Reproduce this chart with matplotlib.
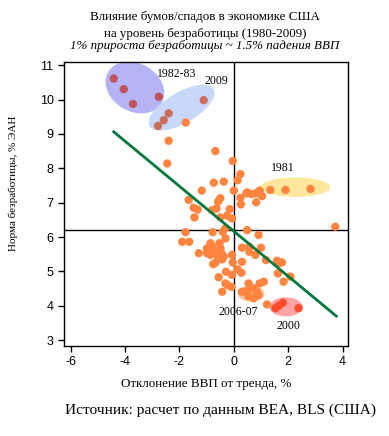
import matplotlib
matplotlib.use("Agg")
import matplotlib.pyplot as plt
from matplotlib.patches import Ellipse
from matplotlib.transforms import ScaledTranslation

# отклонение ВВП от тренда (%), норма безработицы (%)
gdp_gap = [
    -1.77, -2.40, -0.68, -2.45,
    -0.04, 0.24, 0.14, -0.74, -0.37, -1.18, 0.00, 0.46, 0.24, -0.50, -0.58,
    -1.66, 0.26, -1.48, -1.33, -0.80, -0.64, -0.15, -1.45, -0.50, -0.25, -0.07,
    -0.32, 0.49, -1.78, -0.78, -0.41, -0.31, -1.90, -1.64,
    -0.86, -0.53, -0.99, -0.80, -0.49, -1.29, -0.99, -0.86, -0.46, -0.37,
    -0.07, 0.30, -0.68, -0.76, -0.43, -0.04, 0.30, -0.29, 0.14, 0.28, -0.56,
    -0.07, -0.31, -0.23, -0.09, -0.43, -0.70, -0.60, -0.90,
    3.73, 0.91, 0.57, 0.57, 1.00, 0.79, 1.18, 1.59, 1.77, 1.67, 1.62, 2.08,
    1.83, 1.10, 0.95, 0.54,
    0.30, 0.49, 0.73, 0.85, 0.54, 0.73, 0.91, 1.22,
    0.49, 0.64, 0.79, 0.95, 1.04, 0.82,
    1.34, 1.90, 2.82,
]
unemp = [
    9.33, 8.80, 8.50, 8.14,
    8.21, 7.83, 7.65, 7.58, 7.61, 7.35, 7.35, 7.27, 7.14, 7.13, 7.03,
    7.08, 6.95, 6.85, 6.80, 6.78, 6.83, 6.81, 6.57, 6.57, 6.62, 6.54,
    6.25, 6.20, 6.14, 6.14, 6.15, 5.96, 5.86, 5.86,
    5.82, 5.82, 5.67, 5.72, 5.67, 5.53, 5.53, 5.48, 5.53, 5.43,
    5.48, 5.69, 5.25, 5.21, 5.35, 5.26, 5.28, 4.99, 5.06, 4.96, 4.83,
    4.90, 4.65, 4.60, 4.55, 4.41, 5.60, 5.45, 5.60,
    6.30, 6.06, 5.72, 5.57, 5.69, 5.48, 5.33, 5.31, 5.26, 5.24, 4.94, 4.85,
    4.70, 4.70, 4.65, 4.65,
    4.41, 4.44, 4.51, 4.41, 4.28, 4.22, 4.31, 4.04,
    7.30, 7.25, 7.27, 7.35, 7.19, 7.01,
    7.37, 7.37, 7.40,
]

# выделенные периоды
gap_8283 = [-4.42, -4.05, -3.71, -2.76]
un_8283 = [10.61, 10.30, 9.87, 10.08]
gap_2009 = [-2.40, -2.58, -2.79, -1.11]
un_2009 = [9.60, 9.40, 9.23, 9.98]
gap_2000 = [1.53, 1.65, 1.80, 2.38]
un_2000 = [3.93, 4.00, 4.09, 3.93]

# линия тренда
trend_x = [-4.42, 3.77]
trend_y = [9.06, 3.70]

plt.rcParams['font.family'] = ['Liberation Serif', 'DejaVu Serif']

fig = plt.figure(figsize=(3.89, 4.36), dpi=100)
ax = fig.add_axes([0.1645, 0.2064, 0.7301, 0.6521])


def oval(cx, cy, w, h, ang, color, alpha=1.0):
    # размеры овала в пикселях, центр в координатах данных
    tr = fig.dpi_scale_trans + ScaledTranslation(cx, cy, ax.transData)
    e = Ellipse((0, 0), w / 100, h / 100, angle=ang, transform=tr,
                facecolor=color, edgecolor='none', alpha=alpha, zorder=1)
    ax.add_patch(e)


oval(-3.64, 10.35, 62, 48, -30, '#b4b4f4')
oval(-1.92, 9.76, 74, 31, 30, '#c8d8fa')
oval(2.26, 7.45, 70, 19.5, 0, '#fde79c')
oval(0.63, 4.35, 27, 16, 0, '#f9c9a4')
oval(1.92, 3.97, 33, 19, 0, '#ffa4a4')

ax.axhline(6.19, color='black', lw=1, zorder=2)
ax.axvline(0, color='black', lw=1, zorder=2)

ax.scatter(gdp_gap, unemp, s=36, color='#ff843f', edgecolors='none', zorder=3)
ax.scatter(gap_8283, un_8283, s=36, color='#c0545e', edgecolors='none', zorder=3)
ax.scatter(gap_2009, un_2009, s=36, color='#cc6e5c', edgecolors='none', zorder=3)
ax.scatter(gap_2000, un_2000, s=36, color='#ff4c2c', edgecolors='none', zorder=3)

ax.plot(trend_x, trend_y, color='#00783c', lw=2, zorder=4)

ax.text(-2.09, 10.74, '1982-83', fontsize=8.5, ha='center', va='center', zorder=5)
ax.text(-0.64, 10.54, '2009', fontsize=8.5, ha='center', va='center', zorder=5)
ax.text(1.80, 8.00, '1981', fontsize=8.5, ha='center', va='center', zorder=5)
ax.text(0.18, 3.81, '2006-07', fontsize=8.5, ha='center', va='center', zorder=5)
ax.text(2.02, 3.42, '2000', fontsize=8.5, ha='center', va='center', zorder=5)

ax.set_xlim(-6.25, 4.2)
ax.set_ylim(2.83, 11.1)
ax.set_xticks([-6, -4, -2, 0, 2, 4])
ax.set_yticks(range(3, 12))
ax.set_xticklabels(['-6', '-4', '-2', '0', '2', '4'], family='Liberation Sans')
ax.set_yticklabels([str(v) for v in range(3, 12)], family='Liberation Sans')
ax.tick_params(direction='out', length=4, width=1, labelsize=9)
for sp in ax.spines.values():
    sp.set_linewidth(1)

ax.set_xlabel('Отклонение ВВП от тренда, %', fontsize=9.4, labelpad=7)
ax.set_ylabel('Норма безработицы, % ЭАН', fontsize=8)
ax.yaxis.set_label_coords(-0.162, 0.572)

fig.text(0.527, 0.962, 'Влияние бумов/спадов в экономике США', fontsize=9.4,
         ha='center', va='center')
fig.text(0.527, 0.922, 'на уровень безработицы (1980-2009)', fontsize=9.4,
         ha='center', va='center')
fig.text(0.527, 0.894, '1% прироста безработицы ~ 1.5% падения ВВП', fontsize=9.4,
         style='italic', ha='center', va='center')
fig.text(0.568, 0.06, 'Источник: расчет по данным BEA, BLS (США)', fontsize=11.1,
         ha='center', va='center')

fig.savefig('out.png', dpi=100)
